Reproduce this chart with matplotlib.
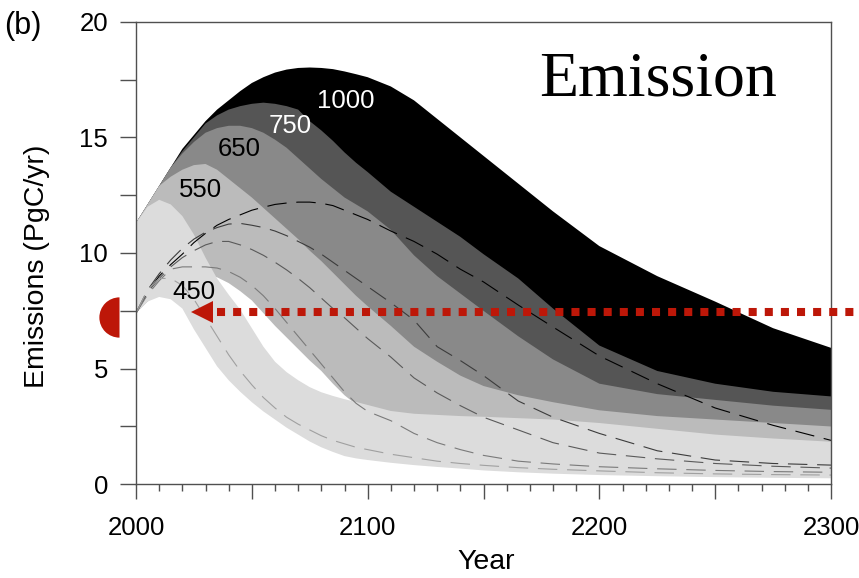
import matplotlib
matplotlib.use('Agg')
import matplotlib.pyplot as plt
import matplotlib.transforms as mtransforms
from matplotlib.ticker import MultipleLocator, FuncFormatter

plt.rcParams['font.family'] = ['Liberation Sans', 'DejaVu Sans']
plt.rcParams['lines.scale_dashes'] = False

# ---------------- data ----------------
years = [2000, 2005, 2010, 2015, 2020, 2025, 2030, 2035, 2040, 2045, 2050, 2055,
         2060, 2065, 2070, 2075, 2080, 2085, 2090, 2095, 2100, 2110, 2120, 2130,
         2140, 2150, 2165, 2180, 2200, 2225, 2250, 2275, 2300]

upper_1000 = [11.3, 12.1, 12.9, 13.7, 14.5, 15.1, 15.7, 16.2, 16.6, 17.0, 17.35, 17.6,
              17.8, 17.93, 18.0, 18.02, 18.0, 17.95, 17.85, 17.73, 17.6, 17.2, 16.6, 15.8,
              15.0, 14.2, 13.0, 11.8, 10.3, 9.0, 7.9, 6.75, 5.9]
lower_1000 = [7.4, 8.2, 9.0, 9.8, 10.5, 11.1, 11.6, 12.0, 12.2, 12.25, 12.3, 12.2,
              12.1, 11.85, 11.6, 11.25, 10.9, 10.5, 10.1, 9.7, 9.3, 8.5, 7.7, 7.0,
              6.4, 5.9, 5.2, 4.6, 4.0, 3.6, 3.3, 3.1, 2.9]
upper_750 = [11.3, 12.1, 12.9, 13.7, 14.4, 15.0, 15.6, 15.95, 16.2, 16.35, 16.45, 16.5,
             16.45, 16.35, 16.2, 15.7, 15.3, 14.85, 14.35, 13.9, 13.5, 12.65, 12.0, 11.35,
             10.7, 9.95, 8.9, 7.6, 6.0, 4.9, 4.35, 4.0, 3.8]
lower_750 = [7.4, 8.1, 8.8, 9.5, 10.1, 10.6, 11.0, 11.2, 11.3, 11.25, 11.2, 11.0,
             10.8, 10.45, 10.1, 9.65, 9.2, 8.75, 8.3, 7.85, 7.4, 6.6, 5.9, 5.3,
             4.8, 4.3, 3.8, 3.4, 3.0, 2.7, 2.5, 2.35, 2.2]
upper_650 = [11.3, 12.1, 12.9, 13.7, 14.3, 14.8, 15.2, 15.4, 15.5, 15.5, 15.4, 15.2,
             14.9, 14.55, 14.1, 13.65, 13.2, 12.8, 12.4, 12.1, 11.8, 11.0, 9.9, 9.0,
             8.25, 7.5, 6.4, 5.4, 4.35, 3.9, 3.65, 3.4, 3.22]
lower_650 = [7.4, 8.0, 8.6, 9.1, 9.5, 9.8, 10.0, 10.0, 9.9, 9.7, 9.5, 9.2,
             8.9, 8.5, 8.1, 7.65, 7.2, 6.75, 6.3, 5.9, 5.5, 4.8, 4.2, 3.7,
             3.3, 3.0, 2.7, 2.45, 2.2, 2.0, 1.85, 1.7, 1.6]
upper_550 = [11.3, 12.1, 12.9, 13.3, 13.6, 13.8, 13.85, 13.6, 13.2, 12.8, 12.4, 11.95,
             11.5, 11.05, 10.6, 10.1, 9.65, 9.15, 8.65, 8.15, 7.7, 6.85, 5.95, 5.3,
             4.7, 4.25, 3.85, 3.55, 3.2, 2.95, 2.8, 2.65, 2.5]
lower_550 = [7.4, 7.9, 8.3, 8.7, 8.95, 9.05, 9.05, 8.95, 8.7, 8.35, 7.95, 7.4,
             6.85, 6.35, 5.85, 5.35, 4.9, 4.35, 3.85, 3.45, 3.2, 2.85, 2.55, 2.35,
             2.2, 2.05, 1.9, 1.75, 1.6, 1.45, 1.3, 1.2, 1.1]
upper_450 = [11.3, 12.0, 12.3, 12.1, 11.6, 10.8, 9.8, 8.9, 8.2, 7.55, 6.75, 5.95,
             5.3, 4.85, 4.5, 4.2, 3.98, 3.82, 3.68, 3.56, 3.43, 3.17, 3.05, 3.0,
             2.95, 2.92, 2.86, 2.8, 2.65, 2.4, 2.15, 1.98, 1.84]
lower_450 = [7.4, 7.9, 8.1, 8.0, 7.6, 6.7, 5.9, 5.1, 4.5, 4.0, 3.55, 3.15,
             2.8, 2.45, 2.15, 1.85, 1.6, 1.4, 1.22, 1.12, 1.05, 0.93, 0.83, 0.75,
             0.68, 0.6, 0.52, 0.46, 0.4, 0.35, 0.31, 0.28, 0.26]

median_1000 = [7.4, 8.3, 9.0, 9.5, 9.95, 10.45, 10.85, 11.2, 11.45, 11.65, 11.85, 11.98,
               12.1, 12.16, 12.2, 12.2, 12.15, 12.05, 11.85, 11.65, 11.45, 10.95, 10.5, 9.95,
               9.3, 8.75, 7.75, 6.8, 5.55, 4.35, 3.3, 2.55, 1.9]
median_750 = [7.4, 8.4, 9.1, 9.7, 10.2, 10.6, 10.9, 11.1, 11.25, 11.28, 11.2, 11.1,
              10.95, 10.75, 10.5, 10.25, 9.95, 9.6, 9.25, 8.9, 8.55, 7.85, 7.1, 5.95,
              5.35, 4.7, 3.6, 2.9, 2.2, 1.45, 1.05, 0.9, 0.83]
median_650 = [7.4, 8.3, 8.9, 9.4, 9.8, 10.1, 10.35, 10.5, 10.5, 10.35, 10.15, 9.9,
              9.6, 9.27, 8.9, 8.5, 8.05, 7.6, 7.2, 6.75, 6.3, 5.5, 4.6, 3.95,
              3.4, 2.9, 2.35, 1.8, 1.35, 1.1, 0.9, 0.78, 0.7]
median_550 = [7.4, 8.2, 8.8, 9.3, 9.4, 9.4, 9.4, 9.35, 9.2, 8.95, 8.6, 8.15,
              7.6, 7.0, 6.4, 5.8, 5.2, 4.6, 4.0, 3.5, 3.15, 2.75, 2.2, 1.8,
              1.5, 1.25, 1.0, 0.88, 0.76, 0.67, 0.6, 0.55, 0.52]
median_450 = [7.4, 8.4, 8.9, 8.9, 8.6, 8.0, 7.2, 6.4, 5.6, 4.9, 4.3, 3.75,
              3.3, 2.9, 2.6, 2.35, 2.1, 1.9, 1.75, 1.6, 1.5, 1.3, 1.15, 1.0,
              0.9, 0.82, 0.72, 0.65, 0.58, 0.5, 0.45, 0.42, 0.4]

scenarios = ['1000', '750', '650', '550', '450']
uppers = [upper_1000, upper_750, upper_650, upper_550, upper_450]
lowers = [lower_1000, lower_750, lower_650, lower_550, lower_450]
medians = [median_1000, median_750, median_650, median_550, median_450]

label_pos = {'1000': (2090.6, 16.57), '750': (2066.5, 15.49), '650': (2044.7, 14.5),
             '550': (2028.0, 12.73), '450': (2025.0, 8.31)}
label_colors = {'1000': 'white', '750': 'white', '650': 'black', '550': 'black', '450': 'black'}

current_year = 2000
current_emission = 7.25
arrow_level = 7.45
arrow_start = 2035
arrow_end = 2315

# ---------------- style ----------------
band_colors = ['#000000', '#555555', '#898989', '#bbbbbb', '#dcdcdc']
median_colors = ['#000000', '#3c3c3c', '#5a5a5a', '#7a7a7a', '#a0a0a0']
red = '#bd1708'
axis_gray = '#505050'

fig = plt.figure(figsize=(8.59, 5.78), dpi=100)
ax = fig.add_axes([136/859, 1 - 484.3/578, 695/859, 462.6/578])

for name, up, lo, c in zip(scenarios, uppers, lowers, band_colors):
    ax.fill_between(years, lo, up, facecolor=c, edgecolor='none', linewidth=0, zorder=1)

for med, c in zip(medians, median_colors):
    ax.plot(years, med, color=c, lw=0.8, dashes=(14, 7), zorder=2)

for name in scenarios:
    x, y = label_pos[name]
    ax.text(x, y, name, color=label_colors[name], fontsize=18.5, ha='center', va='center', zorder=3)

ax.text(2225.5, 16.83, 'Emission', family=['Liberation Serif', 'DejaVu Serif'],
        fontsize=46, ha='center', va='baseline', zorder=3)

# red dotted arrow
ax.plot([arrow_start, arrow_end], [arrow_level, arrow_level], color=red, lw=5.8,
        dashes=(5.8, 5.8), solid_capstyle='butt', dash_capstyle='butt',
        clip_on=False, zorder=4)
ax.plot([2028.6], [arrow_level], marker='<', markersize=15.5, color=red,
        markeredgewidth=0, clip_on=False, zorder=4)

# half-disc for current emissions, just left of the axis
offset = mtransforms.ScaledTranslation(-17/100, 0, fig.dpi_scale_trans)
ax.plot([current_year], [current_emission], transform=ax.transData + offset,
        marker='o', markersize=29, fillstyle='left', color=red,
        markerfacecoloralt='none', markeredgewidth=0, clip_on=False, zorder=5)

ax.set_xlim(2000, 2300)
ax.set_ylim(0, 20)

for s in ax.spines.values():
    s.set_color(axis_gray)
    s.set_linewidth(1.0)

ax.xaxis.set_major_locator(MultipleLocator(50))
ax.xaxis.set_minor_locator(MultipleLocator(10))
ax.xaxis.set_major_formatter(FuncFormatter(lambda v, p: f'{int(round(v))}' if round(v) % 100 == 0 else ''))
ax.yaxis.set_major_locator(MultipleLocator(2.5))
ax.yaxis.set_major_formatter(FuncFormatter(lambda v, p: f'{int(round(v))}' if abs(v % 5) < 1e-6 else ''))

ax.tick_params(axis='x', which='major', direction='out', length=10.8, width=1.0,
               color=axis_gray, pad=12, labelsize=18.5)
ax.tick_params(axis='x', which='minor', direction='out', length=5, width=1.0, color=axis_gray)
ax.tick_params(axis='y', which='major', direction='out', length=11.5, width=1.0,
               color=axis_gray, pad=8.5, labelsize=18.5)

fig.text(37/859, 1 - 266/578, 'Emissions (PgC/yr)', rotation=90, fontsize=20.5,
         ha='center', va='center')
fig.text(486/859, 1 - 562/578, 'Year', fontsize=20.5, ha='center', va='center')
fig.text(4/859, 1 - 26/578, '(b)', fontsize=22, ha='left', va='center')

fig.savefig('out.png', dpi=100)
